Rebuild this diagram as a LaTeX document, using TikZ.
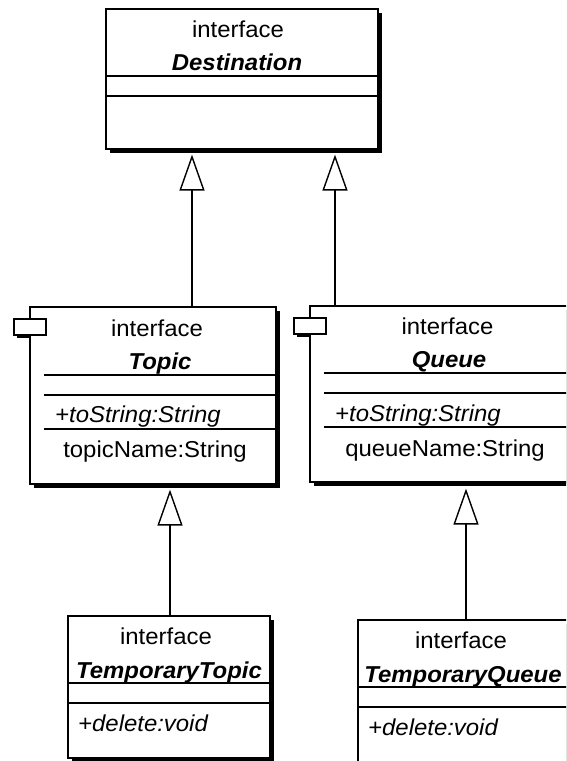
\documentclass[tikz,border=0pt]{standalone}
\usepackage{fontspec}
\setmainfont{Liberation Sans}[FakeStretch=1.04]
\usetikzlibrary{arrows.meta,shadows}
\tikzset{
  umlbox/.style={draw, line width=1.6pt, fill=white, anchor=north west, inner sep=0pt,
    drop shadow={shadow xshift=4pt, shadow yshift=-4pt, fill=black, opacity=1}},
  sepline/.style={line width=1.6pt},
  txt/.style={anchor=base, inner sep=0pt, font=\fontsize{23}{27}\selectfont},
  ltxt/.style={txt, anchor=base west},
  comp/.style={draw, line width=1.6pt, fill=white, anchor=north west,
    minimum width=32pt, minimum height=16pt, inner sep=0pt},
  compshadow/.style={fill=black},
  gen/.style={line width=1.4pt, shorten >=5pt,
    -{Triangle[open, length=36pt, width=25pt, line width=1.4pt]}}
}
\begin{document}
\begin{tikzpicture}[x=1pt,y=-1pt]
\useasboundingbox (0,0) rectangle (566,761);
\clip (0,0) rectangle (566,761);
% component-symbol shadows (hidden behind boxes)
\fill[compshadow] (17,322) rectangle (49,338);
\fill[compshadow] (297,321) rectangle (329,337);
% boxes
\node[umlbox, minimum width=272pt, minimum height=140pt] (dest) at (105,8) {};
\node[umlbox, minimum width=246pt, minimum height=177pt] (topic) at (29,306) {};
\node[umlbox, minimum width=280pt, minimum height=176pt] (queue) at (309,305) {};
\node[umlbox, minimum width=202pt, minimum height=142pt] (ttopic) at (67,615) {};
\node[umlbox, minimum width=240pt, minimum height=160pt] (tqueue) at (357,619) {};
% compartment lines
\coordinate (yd1) at (0,76); \coordinate (yd2) at (0,96);
\draw[sepline] (dest.west |- yd1) -- (dest.east |- yd1);
\draw[sepline] (dest.west |- yd2) -- (dest.east |- yd2);
\coordinate (tl) at (44,0);
\coordinate (yt1) at (0,375); \coordinate (yt2) at (0,395); \coordinate (yt3) at (0,429);
\draw[sepline] (tl |- yt1) -- (topic.east |- yt1);
\draw[sepline] (tl |- yt2) -- (topic.east |- yt2);
\draw[sepline] (tl |- yt3) -- (topic.east |- yt3);
\coordinate (ql) at (324,0);
\coordinate (yq1) at (0,373); \coordinate (yq2) at (0,393); \coordinate (yq3) at (0,427);
\draw[sepline] (ql |- yq1) -- (queue.east |- yq1);
\draw[sepline] (ql |- yq2) -- (queue.east |- yq2);
\draw[sepline] (ql |- yq3) -- (queue.east |- yq3);
\coordinate (ytt1) at (0,683); \coordinate (ytt2) at (0,703);
\draw[sepline] (ttopic.west |- ytt1) -- (ttopic.east |- ytt1);
\draw[sepline] (ttopic.west |- ytt2) -- (ttopic.east |- ytt2);
\coordinate (ytq1) at (0,687); \coordinate (ytq2) at (0,707);
\draw[sepline] (tqueue.west |- ytq1) -- (tqueue.east |- ytq1);
\draw[sepline] (tqueue.west |- ytq2) -- (tqueue.east |- ytq2);
% component symbols
\node[comp] (tcomp) at (13,318) {};
\node[comp] (qcomp) at (293,317) {};
% texts
\node[txt] (dst1) at (238,37) {interface};
\node[txt] (dst2) at (237,70) {\bfseries\itshape Destination};
\node[txt] (tp1) at (157,336) {interface};
\node[txt] (tp2) at (160,369) {\bfseries\itshape Topic};
\node[ltxt] (tp3) at (55,422) {\itshape +toString:String};
\node[txt] (tp4) at (155,457) {topicName:String};
\node[txt] (qu1) at (447.5,334) {interface};
\node[txt] (qu2) at (449,367) {\bfseries\itshape Queue};
\node[ltxt] (qu3) at (335,421) {\itshape +toString:String};
\node[txt] (qu4) at (445,456) {queueName:String};
\node[txt] (tt1) at (166,644) {interface};
\node[txt] (tt2) at (169,678) {\bfseries\itshape TemporaryTopic};
\node[ltxt] (tt3) at (78,731) {\itshape +delete:void};
\node[txt] (tq1) at (461,648) {interface};
\node[txt] (tq2) at (463,682) {\bfseries\itshape TemporaryQueue};
\node[ltxt] (tq3) at (368,735) {\itshape +delete:void};
% generalization connectors
\coordinate (x1) at (192,0);
\coordinate (x2) at (335,0);
\coordinate (x3) at (170,0);
\coordinate (x4) at (466,0);
\draw[gen] (topic.north -| x1) -- (dest.south -| x1);
\draw[gen] (queue.north -| x2) -- (dest.south -| x2);
\draw[gen] (ttopic.north -| x3) -- (topic.south -| x3);
\draw[gen, shorten >=6pt] (tqueue.north -| x4) -- (queue.south -| x4);
\end{tikzpicture}
\end{document}
